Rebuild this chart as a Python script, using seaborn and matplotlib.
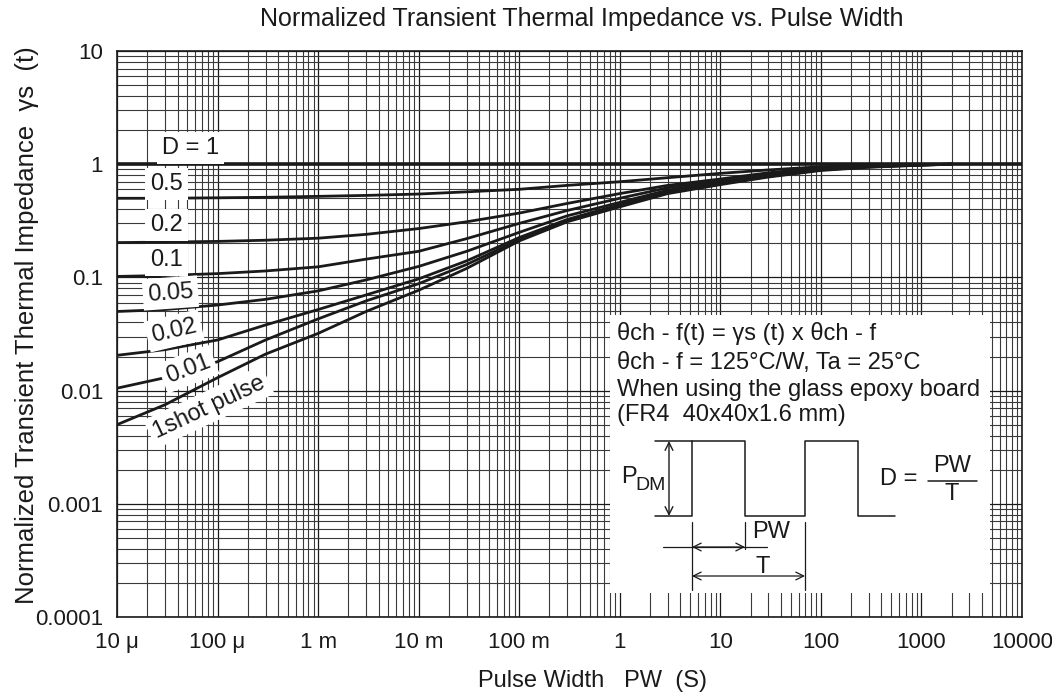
import numpy as np
import pandas as pd
import matplotlib
matplotlib.use("Agg")
import matplotlib.pyplot as plt
from matplotlib.ticker import LogLocator, NullFormatter, FixedLocator, FixedFormatter
from matplotlib.patches import Rectangle
import seaborn as sns

# ---------------- data ----------------
pulse_width = [1e-5, 3e-5, 1e-4, 3e-4, 1e-3, 3e-3, 1e-2, 3e-2, 1e-1, 3e-1,
               1, 3, 10, 30, 100, 300, 1000, 2000]
z_1shot = [0.005, 0.0075, 0.013, 0.021, 0.032, 0.05, 0.077, 0.12, 0.21, 0.31,
           0.42, 0.55, 0.66, 0.77, 0.88, 0.94, 0.98, 1.0]
z_001 = [0.0105, 0.013, 0.018, 0.028, 0.043, 0.062, 0.088, 0.13, 0.215, 0.315,
         0.43, 0.56, 0.67, 0.78, 0.89, 0.945, 0.982, 1.0]
z_002 = [0.0205, 0.023, 0.028, 0.038, 0.052, 0.07, 0.097, 0.14, 0.225, 0.325,
         0.44, 0.57, 0.68, 0.79, 0.9, 0.95, 0.985, 1.0]
z_005 = [0.05, 0.052, 0.057, 0.064, 0.076, 0.095, 0.125, 0.17, 0.25, 0.35,
         0.46, 0.59, 0.7, 0.8, 0.91, 0.955, 0.987, 1.0]
z_01 = [0.102, 0.104, 0.108, 0.114, 0.124, 0.145, 0.17, 0.22, 0.3, 0.39,
        0.5, 0.62, 0.72, 0.82, 0.92, 0.96, 0.99, 1.0]
z_02 = [0.203, 0.205, 0.208, 0.213, 0.222, 0.24, 0.27, 0.31, 0.37, 0.45,
        0.55, 0.65, 0.74, 0.84, 0.93, 0.965, 0.99, 1.0]
z_05 = [0.5, 0.5, 0.505, 0.51, 0.52, 0.53, 0.545, 0.57, 0.6, 0.65,
        0.7, 0.76, 0.83, 0.89, 0.95, 0.98, 0.995, 1.0]
d1_width = [1e-5, 1e4]
z_d1 = [1.0, 1.0]

series_names = ["1shot pulse", "0.01", "0.02", "0.05", "0.1", "0.2", "0.5"]
series_values = [z_1shot, z_001, z_002, z_005, z_01, z_02, z_05]

x_tick_values = [1e-5, 1e-4, 1e-3, 1e-2, 1e-1, 1, 10, 100, 1000, 10000]
x_tick_labels = ["10 μ", "100 μ", "1 m", "10 m", "100 m", "1", "10", "100", "1000", "10000"]
y_tick_values = [1e-4, 1e-3, 1e-2, 1e-1, 1, 10]
y_tick_labels = ["0.0001", "0.001", "0.01", "0.1", "1", "10"]

# curve label texts and where they sit (x, y, rotation)
label_texts = ["D = 1", "0.5", "0.2", "0.1", "0.05", "0.02", "0.01", "1shot pulse"]
label_pos = [(5.4e-5, 1.39, 0), (3.1e-5, 0.668, 0), (3.1e-5, 0.29, 0), (3.1e-5, 0.1426, 0),
             (3.4e-5, 0.0728, 4), (3.7e-5, 0.0337, 13), (5.1e-5, 0.0155, 21), (8.2e-5, 0.00716, 25)]

# ---------------- style ----------------
sns.set_style("white")
plt.rcParams["font.family"] = ["Liberation Sans", "DejaVu Sans"]

fig = plt.figure(figsize=(10.52, 6.94), dpi=100)
ax = fig.add_axes([117 / 1052, 77 / 694, 905 / 1052, 566 / 694])

rows = []
for name, vals in zip(series_names, series_values):
    for x, y in zip(pulse_width, vals):
        rows.append({"PW": x, "Z": y, "D": name})
df = pd.DataFrame(rows)
df1 = pd.DataFrame({"PW": d1_width, "Z": z_d1, "D": "1"})

sns.lineplot(data=df, x="PW", y="Z", hue="D", palette=["#1a1a1a"] * len(series_names),
             legend=False, lw=2.0, estimator=None, sort=False, ax=ax, zorder=2)
sns.lineplot(data=df1, x="PW", y="Z", color="#1a1a1a", lw=2.6, estimator=None,
             ax=ax, zorder=2)

ax.set_xscale("log")
ax.set_yscale("log")
ax.set_xlim(1e-5, 1e4)
ax.set_ylim(1e-4, 10)

ax.xaxis.set_major_locator(FixedLocator(x_tick_values))
ax.xaxis.set_major_formatter(FixedFormatter(x_tick_labels))
ax.yaxis.set_major_locator(FixedLocator(y_tick_values))
ax.yaxis.set_major_formatter(FixedFormatter(y_tick_labels))
ax.xaxis.set_minor_locator(LogLocator(base=10, subs=np.arange(2, 10), numticks=100))
ax.yaxis.set_minor_locator(LogLocator(base=10, subs=np.arange(2, 10), numticks=100))
ax.xaxis.set_minor_formatter(NullFormatter())
ax.yaxis.set_minor_formatter(NullFormatter())
ax.tick_params(which="both", length=0, labelsize=16, colors="#1a1a1a")
ax.tick_params(axis="x", pad=11)
ax.tick_params(axis="y", pad=10)

ax.set_axisbelow(True)
ax.grid(which="major", color="#1a1a1a", lw=0.9)
ax.grid(which="minor", color="#3a3a3a", lw=0.8)
for s in ax.spines.values():
    s.set_color("#1a1a1a")
    s.set_linewidth(1.2)

ax.set_xlabel("")
ax.set_ylabel("")

for txt, (lx, ly, rot) in zip(label_texts, label_pos):
    ax.text(lx, ly, txt, fontsize=17, ha="center", va="center", rotation=rot,
            color="#1a1a1a", zorder=4,
            bbox=dict(boxstyle="square,pad=0.2", fc="white", ec="none"))

# titles / axis labels
fig.text(582 / 1052, 1 - 19 / 694, "Normalized Transient Thermal Impedance vs. Pulse Width",
         ha="center", va="center", fontsize=18, color="#1a1a1a")
fig.text(592 / 1052, 1 - 681 / 694, "Pulse Width   PW  (S)",
         ha="center", va="center", fontsize=17, color="#1a1a1a")
fig.text(27 / 1052, 1 - 325 / 694, "Normalized Transient Thermal Impedance  γs  (t)",
         ha="center", va="center", rotation=90, fontsize=18.5, color="#1a1a1a")

# ---------------- inset note ----------------
ov = fig.add_axes([0, 0, 1, 1], facecolor="none")
ov.set_xlim(0, 1052)
ov.set_ylim(694, 0)
ov.axis("off")
ov.add_patch(Rectangle((610, 315), 380, 278, fc="white", ec="none", zorder=1))
kw = dict(fontsize=17, color="#1a1a1a", ha="left", va="center", zorder=3)
ov.text(617, 333, "θch - f(t) = γs (t) x θch - f", **kw)
ov.text(617, 363, "θch - f = 125°C/W, Ta = 25°C", **kw)
ov.text(617, 390, "When using the glass epoxy board", **kw)
ov.text(617, 415, "(FR4  40x40x1.6 mm)", **kw)

lc = "#1a1a1a"
ov.plot([655, 692, 692, 745, 745, 805, 805, 858, 858, 895],
        [516, 516, 441, 441, 516, 516, 441, 441, 516, 516], color=lc, lw=1.1, zorder=3)
ov.plot([655, 692], [441, 441], color=lc, lw=1.1, zorder=3)
ov.annotate("", xy=(669, 441), xytext=(669, 516),
            arrowprops=dict(arrowstyle="<->", color=lc, lw=1.0, mutation_scale=14,
                            shrinkA=0, shrinkB=0), zorder=3)
ov.text(621, 477, "P", fontsize=17, color=lc, ha="left", va="center", zorder=3)
ov.text(635, 485, "DM", fontsize=14, color=lc, ha="left", va="center", zorder=3)
ov.text(880, 479, "D = ", fontsize=17, color=lc, ha="left", va="center", zorder=3)
ov.text(952, 466, "PW", fontsize=17, color=lc, ha="center", va="center", zorder=3)
ov.plot([928, 977], [481, 481], color=lc, lw=1.1, zorder=3)
ov.text(952, 494, "T", fontsize=17, color=lc, ha="center", va="center", zorder=3)
# extension lines
ov.plot([692, 692], [522, 590], color=lc, lw=0.9, zorder=3)
ov.plot([745, 745], [522, 549], color=lc, lw=0.9, zorder=3)
ov.plot([805, 805], [522, 590], color=lc, lw=0.9, zorder=3)
# PW arrow
ov.plot([663, 767], [547, 547], color=lc, lw=0.9, zorder=3)
ov.annotate("", xy=(692, 547), xytext=(745, 547),
            arrowprops=dict(arrowstyle="<->", color=lc, lw=0.9, mutation_scale=14,
                            shrinkA=0, shrinkB=0), zorder=3)
ov.text(771, 532, "PW", fontsize=17, color=lc, ha="center", va="center", zorder=3)
# T arrow
ov.annotate("", xy=(692, 576), xytext=(805, 576),
            arrowprops=dict(arrowstyle="<->", color=lc, lw=0.9, mutation_scale=14,
                            shrinkA=0, shrinkB=0), zorder=3)
ov.text(763, 567, "T", fontsize=17, color=lc, ha="center", va="center", zorder=3)

fig.savefig("out.png", dpi=100)
